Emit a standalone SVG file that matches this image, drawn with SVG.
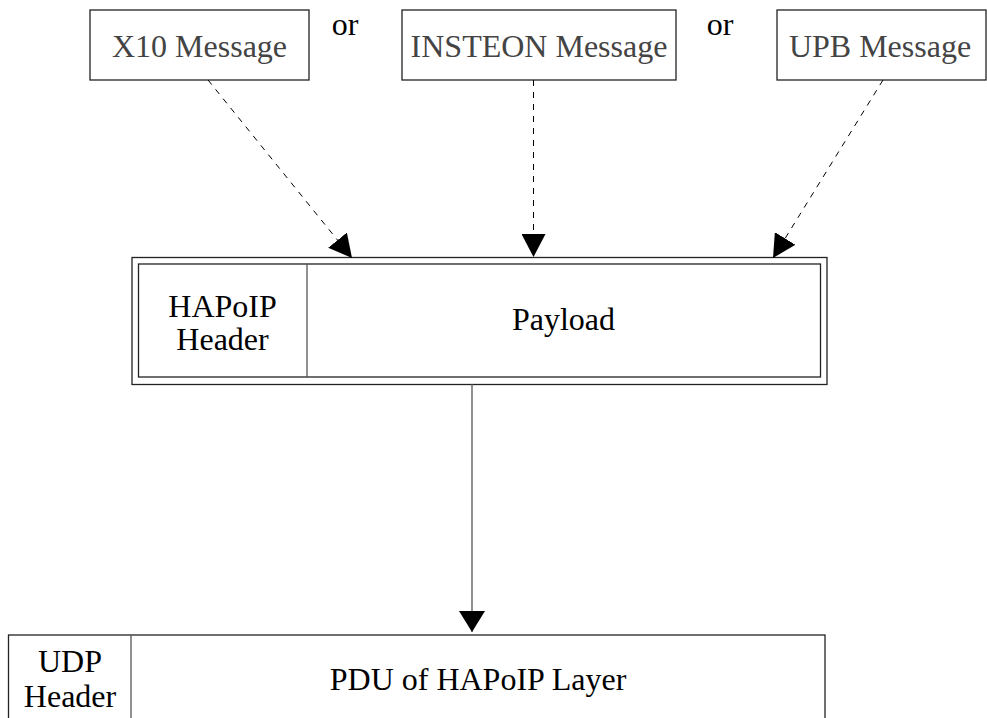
<svg xmlns="http://www.w3.org/2000/svg" width="987" height="718" viewBox="0 0 987 718">
<style>
  .box { fill: #fff; stroke: #222; stroke-width: 1.3; }
  .gline { stroke: #555; stroke-width: 1.3; fill: none; }
  .msg { font-size: 32px; fill: #444; text-anchor: middle; }
  .lbl { font-size: 32px; fill: #000; text-anchor: middle; }
  .dash { stroke: #000; stroke-width: 1; stroke-dasharray: 6 6; fill: none; }
  .solid { stroke: #555; stroke-width: 1.3; fill: none; }
</style>
<defs>
  <marker id="ah" viewBox="0 0 23 24" refX="23" refY="12" markerWidth="23" markerHeight="24" markerUnits="userSpaceOnUse" orient="auto">
    <path d="M0,0 L23,12 L0,24 Z" fill="#000"/>
  </marker>
  <marker id="ah2" viewBox="0 0 21 26" refX="21" refY="13" markerWidth="21" markerHeight="26" markerUnits="userSpaceOnUse" orient="auto">
    <path d="M0,0 L21,13 L0,26 Z" fill="#000"/>
  </marker>
</defs>
<rect width="987" height="718" fill="#fff"/>
<g font-family="Liberation Serif, Times New Roman, serif">
<g id="x10">
  <rect class="box" x="90" y="10" width="219" height="70"/>
  <text class="msg" x="199.5" y="57">X10 Message</text>
</g>
<g id="insteon">
  <rect class="box" x="402" y="10" width="274" height="70"/>
  <text class="msg" x="539" y="57">INSTEON Message</text>
</g>
<g id="upb">
  <rect class="box" x="777" y="10" width="209" height="70"/>
  <text class="msg" x="880" y="57">UPB Message</text>
</g>
<g id="or1"><text class="lbl" x="345" y="35">or</text></g>
<g id="or2"><text class="lbl" x="720" y="35">or</text></g>

<g id="hapoip">
  <rect class="box" x="132" y="257.5" width="695" height="127"/>
  <rect class="box" x="138.5" y="264" width="682" height="113"/>
  <line class="gline" x1="307" y1="264" x2="307" y2="377"/>
  <text class="lbl" x="222.5" y="316.5">HAPoIP</text>
  <text class="lbl" x="222.5" y="350">Header</text>
  <text class="lbl" x="563.5" y="330">Payload</text>
</g>

<g id="udp">
  <rect class="box" x="8.5" y="635" width="816.5" height="100"/>
  <line class="gline" x1="131" y1="635" x2="131" y2="718"/>
  <text class="lbl" x="70" y="672">UDP</text>
  <text class="lbl" x="70" y="707">Header</text>
  <text class="lbl" x="478" y="690">PDU of HAPoIP Layer</text>
</g>
</g>
<g id="connectors">
  <line class="dash" x1="208" y1="80" x2="352" y2="258" marker-end="url(#ah)"/>
  <line class="dash" x1="533.5" y1="80" x2="533.5" y2="257" marker-end="url(#ah)"/>
  <line class="dash" x1="883" y1="80" x2="773" y2="258" marker-end="url(#ah)"/>
  <line class="solid" x1="472" y1="384" x2="472" y2="632" marker-end="url(#ah2)"/>
</g>
</svg>
